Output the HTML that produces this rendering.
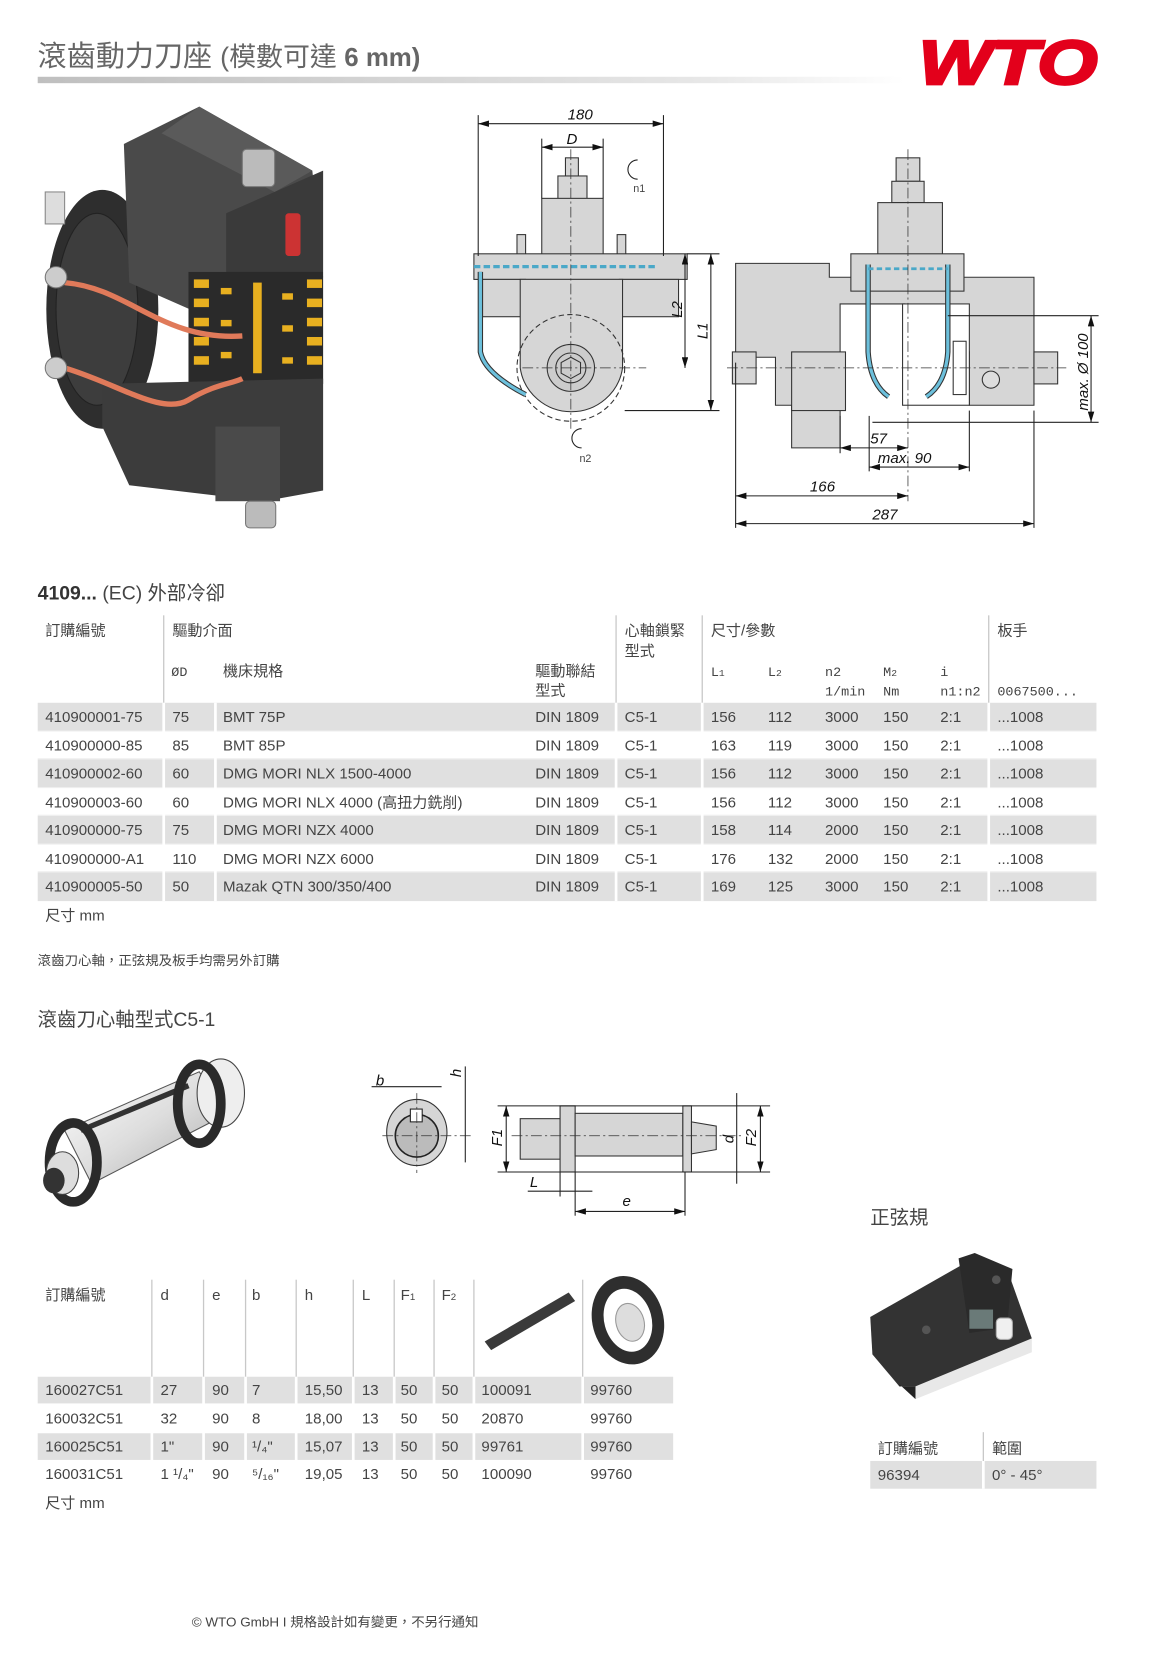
<!DOCTYPE html>
<html><head><meta charset="utf-8">
<style>
html,body{margin:0;padding:0;background:#fff;}
svg{display:block;}
text{font-family:"Liberation Sans","Noto Sans CJK TC",sans-serif;fill:#444;}
.t{font-size:14px;}
.m{font-family:"Liberation Mono","Noto Sans CJK TC",monospace;font-size:12.5px;}
.d{font-style:italic;font-size:14px;fill:#111;}
.ln{stroke:#222;stroke-width:1;fill:none;}
.g{fill:#d6d6d6;stroke:#333;stroke-width:1;}
.ax{stroke:#333;stroke-width:.7;stroke-dasharray:10 3 2 3;fill:none;}
</style></head>
<body>
<svg width="1163" height="1670" viewBox="0 0 1079.8 1566" preserveAspectRatio="none" xmlns="http://www.w3.org/2000/svg">
<defs>
<linearGradient id="gl" x1="0" x2="1"><stop offset="0" stop-color="#bfbfbf"/><stop offset="0.75" stop-color="#e6e6e6"/><stop offset="1" stop-color="#fff"/></linearGradient>
<linearGradient id="cyl" x1="0" y1="0" x2="1" y2="1"><stop offset="0" stop-color="#fff"/><stop offset=".5" stop-color="#ddd"/><stop offset="1" stop-color="#aaa"/></linearGradient>
<marker id="ar" viewBox="0 0 10 6" refX="10" refY="3" markerWidth="10" markerHeight="6" orient="auto-start-reverse"><path d="M0,0L10,3L0,6z" fill="#111"/></marker>
</defs>

<!-- Title -->
<text x="35" y="62" style="font-size:27px;fill:#666">滾齒動力刀座 <tspan style="font-size:25px">(模數可達 </tspan><tspan style="font-size:24px;font-weight:bold">6 mm)</tspan></text>
<rect x="35" y="72" width="805" height="6" fill="url(#gl)"/>
<text x="853" y="79" textLength="166" lengthAdjust="spacingAndGlyphs" style="font-size:58px;font-weight:bold;font-style:italic;fill:#e3001b;stroke:#e3001b;stroke-width:2.5">WTO</text>

<!-- 3D tool left -->
<g>
<ellipse cx="95" cy="290" rx="52" ry="112" fill="#2e2e2e"/>
<ellipse cx="90" cy="290" rx="38" ry="90" fill="#3d3d3d" stroke="#222"/>
<polygon points="115,135 185,100 290,160 300,260 210,305 120,265" fill="#4a4a4a"/>
<polygon points="185,100 290,160 255,180 150,125" fill="#5a5a5a"/>
<polygon points="210,200 300,160 300,255 210,300" fill="#3a3a3a"/>
<rect x="265" y="200" width="14" height="40" rx="3" fill="#c33"/>
<rect x="175" y="255" width="125" height="105" fill="#2a2a2a"/>
<g fill="#e8b020">
<rect x="180" y="262" width="14" height="8"/><rect x="180" y="280" width="14" height="8"/><rect x="180" y="298" width="14" height="8"/><rect x="180" y="316" width="14" height="8"/><rect x="180" y="334" width="14" height="8"/>
<rect x="235" y="265" width="8" height="85"/>
<rect x="285" y="262" width="14" height="8"/><rect x="285" y="280" width="14" height="8"/><rect x="285" y="298" width="14" height="8"/><rect x="285" y="316" width="14" height="8"/><rect x="285" y="334" width="14" height="8"/>
<rect x="205" y="270" width="10" height="6"/><rect x="205" y="300" width="10" height="6"/><rect x="205" y="330" width="10" height="6"/>
<rect x="262" y="275" width="10" height="6"/><rect x="262" y="305" width="10" height="6"/><rect x="262" y="335" width="10" height="6"/>
</g>
<polygon points="95,360 300,355 300,460 245,470 120,455 95,400" fill="#3c3c3c"/>
<rect x="200" y="400" width="60" height="70" fill="#4a4a4a"/>
<rect x="225" y="140" width="30" height="35" rx="4" fill="#bbb" stroke="#777"/>
<rect x="228" y="470" width="28" height="25" rx="4" fill="#bbb" stroke="#777"/>
<path d="M60,265 C120,270 150,320 225,315" stroke="#e07a5a" stroke-width="5" fill="none"/>
<path d="M60,345 C110,360 150,390 175,375 C200,360 215,360 225,355" stroke="#e07a5a" stroke-width="5" fill="none"/>
<circle cx="52" cy="260" r="10" fill="#ccc" stroke="#777"/><circle cx="52" cy="345" r="10" fill="#ccc" stroke="#777"/>
<rect x="42" y="180" width="18" height="30" fill="#ddd" stroke="#888"/>
</g>

<!-- Front view drawing -->
<g>
<rect x="525" y="148" width="12" height="18" class="g"/>
<rect x="518" y="165" width="27" height="22" class="g"/>
<rect x="503" y="186" width="57" height="54" class="g"/>
<rect x="480" y="220" width="8" height="20" class="g"/><rect x="573" y="220" width="8" height="20" class="g"/>
<rect x="440" y="238" width="198" height="24" class="g"/>
<rect x="448" y="262" width="40" height="35" class="g"/><rect x="575" y="262" width="55" height="35" class="g"/>
<path d="M483,262 H578 V345 A48,48 0 0 1 483,345 Z" class="g"/>
<circle cx="530" cy="345" r="22" fill="#ccc" stroke="#333"/>
<circle cx="530" cy="345" r="14" fill="#ccc" stroke="#333"/>
<polygon points="530,335 539,340 539,350 530,355 521,350 521,340" fill="none" stroke="#333"/>
<circle cx="530" cy="345" r="50" fill="none" stroke="#333" stroke-dasharray="5 3"/>
<path d="M440,250 H610" stroke="#4aa8c8" stroke-width="3" stroke-dasharray="6 3" fill="none"/>
<path d="M446,255 V330 Q450,350 488,370" stroke="#333" stroke-width="5" fill="none"/>
<path d="M446,255 V330 Q450,350 488,370" stroke="#6cc0dc" stroke-width="3" fill="none"/>
<line x1="530" y1="140" x2="530" y2="405" class="ax"/>
<line x1="485" y1="345" x2="600" y2="345" class="ax"/>
<line x1="444" y1="108" x2="444" y2="240" class="ln"/><line x1="616" y1="108" x2="616" y2="240" class="ln"/>
<line x1="444" y1="116" x2="616" y2="116" class="ln" marker-start="url(#ar)" marker-end="url(#ar)"/>
<text x="527" y="112" class="d">180</text>
<line x1="503" y1="130" x2="503" y2="186" class="ln"/><line x1="560" y1="130" x2="560" y2="186" class="ln"/>
<line x1="503" y1="138" x2="560" y2="138" class="ln" marker-start="url(#ar)" marker-end="url(#ar)"/>
<text x="526" y="135" class="d">D</text>
<line x1="638" y1="238" x2="668" y2="238" class="ln"/><line x1="580" y1="385" x2="668" y2="385" class="ln"/>
<line x1="636" y1="238" x2="636" y2="345" class="ln" marker-start="url(#ar)" marker-end="url(#ar)"/>
<line x1="660" y1="238" x2="660" y2="385" class="ln" marker-start="url(#ar)" marker-end="url(#ar)"/>
<text x="633" y="298" class="d" transform="rotate(-90 633 298)">L2</text>
<text x="657" y="318" class="d" transform="rotate(-90 657 318)">L1</text>
<path d="M592,150 A9,9 0 1 0 592,168" stroke="#222" fill="none"/><text x="588" y="180" style="font-size:10px">n1</text>
<path d="M540,402 A9,9 0 1 0 540,420" stroke="#222" fill="none"/><text x="538" y="433" style="font-size:10px">n2</text>
</g>

<!-- Side view drawing -->
<g>
<rect x="832" y="148" width="22" height="22" class="g"/>
<rect x="828" y="170" width="30" height="20" class="g"/>
<rect x="815" y="190" width="60" height="50" class="g"/>
<polygon points="683,247 770,247 770,260 960,260 960,380 900,380 900,330 840,330 840,285 780,285 780,420 735,420 735,380 720,380 720,335 683,335" class="g"/>
<rect x="790" y="238" width="105" height="35" class="g"/>
<rect x="735" y="330" width="50" height="55" class="g"/>
<rect x="680" y="330" width="22" height="30" class="g"/><rect x="960" y="330" width="22" height="30" class="g"/>
<rect x="838" y="285" width="62" height="95" fill="#fff" stroke="#333"/>
<rect x="885" y="320" width="12" height="50" fill="#fff" stroke="#333"/>
<circle cx="920" cy="356" r="8" fill="#ddd" stroke="#333"/>
<path d="M806,248 V330 Q808,360 825,372" stroke="#333" stroke-width="5" fill="none"/>
<path d="M806,248 V330 Q808,360 825,372" stroke="#6cc0dc" stroke-width="3" fill="none"/>
<path d="M880,248 V330 Q878,360 860,372" stroke="#333" stroke-width="5" fill="none"/>
<path d="M880,248 V330 Q878,360 860,372" stroke="#6cc0dc" stroke-width="3" fill="none"/>
<line x1="806" y1="252" x2="880" y2="252" stroke="#4aa8c8" stroke-width="2.5" stroke-dasharray="5 3"/>
<line x1="843" y1="140" x2="843" y2="470" class="ax"/>
<line x1="675" y1="345" x2="990" y2="345" class="ax"/>
<line x1="683" y1="340" x2="683" y2="495" class="ln"/><line x1="960" y1="385" x2="960" y2="495" class="ln"/>
<line x1="780" y1="390" x2="780" y2="425" class="ln"/><line x1="807" y1="390" x2="807" y2="442" class="ln"/><line x1="900" y1="385" x2="900" y2="442" class="ln"/>
<line x1="780" y1="420" x2="843" y2="420" class="ln" marker-start="url(#ar)" marker-end="url(#ar)"/><text x="808" y="416" class="d">57</text>
<line x1="807" y1="438" x2="900" y2="438" class="ln" marker-start="url(#ar)" marker-end="url(#ar)"/><text x="815" y="434" class="d">max.  90</text>
<line x1="683" y1="465" x2="843" y2="465" class="ln" marker-start="url(#ar)" marker-end="url(#ar)"/><text x="752" y="461" class="d">166</text>
<line x1="683" y1="491" x2="960" y2="491" class="ln" marker-start="url(#ar)" marker-end="url(#ar)"/><text x="810" y="487" class="d">287</text>
<line x1="880" y1="296" x2="1020" y2="296" class="ln"/><line x1="810" y1="396" x2="1020" y2="396" class="ln"/>
<line x1="1013" y1="296" x2="1013" y2="396" class="ln" marker-start="url(#ar)" marker-end="url(#ar)"/>
<text x="1010" y="385" class="d" transform="rotate(-90 1010 385)">max. Ø 100</text>
</g>

<!-- Section heading -->
<text x="35" y="562" style="font-size:18px"><tspan style="font-weight:bold;fill:#333">4109...</tspan> (EC) 外部冷卻</text>

<!-- Table 1 -->
<g>
<g fill="#e0e0e0">
<rect x="35" y="659" width="983" height="26"/>
<rect x="35" y="712" width="983" height="26"/>
<rect x="35" y="765" width="983" height="26"/>
<rect x="35" y="818" width="983" height="27"/>
</g>
<g stroke="#eee" stroke-width="1"><line x1="35" y1="685.5" x2="1018" y2="685.5"/><line x1="35" y1="711.5" x2="1018" y2="711.5"/><line x1="35" y1="738.5" x2="1018" y2="738.5"/><line x1="35" y1="764.5" x2="1018" y2="764.5"/><line x1="35" y1="791.5" x2="1018" y2="791.5"/><line x1="35" y1="817.5" x2="1018" y2="817.5"/></g>
<g stroke="#c8c8c8" stroke-width="1.2">
<line x1="152" y1="577" x2="152" y2="659"/><line x1="572" y1="577" x2="572" y2="659"/><line x1="652" y1="577" x2="652" y2="659"/><line x1="918" y1="577" x2="918" y2="659"/>
</g>
<g stroke="#fff" stroke-width="2.5">
<line x1="152" y1="659" x2="152" y2="845"/><line x1="200" y1="659" x2="200" y2="845"/><line x1="572" y1="659" x2="572" y2="845"/><line x1="652" y1="659" x2="652" y2="845"/><line x1="918" y1="659" x2="918" y2="845"/>
</g>
<g class="t">
<text x="42" y="596" class="t">訂購編號</text><text x="160" y="596" class="t">驅動介面</text>
<text x="580" y="596" class="t">心軸鎖緊</text><text x="580" y="615" class="t">型式</text>
<text x="660" y="596" class="t">尺寸/參數</text><text x="926" y="596" class="t">板手</text>
<text x="159" y="634" class="m">ØD</text><text x="207" y="634" class="t">機床規格</text>
<text x="497" y="634" class="t">驅動聯結</text><text x="497" y="652" class="t">型式</text>
<text x="660" y="634" class="m">L<tspan style="font-size:9px">1</tspan></text>
<text x="713" y="634" class="m">L<tspan style="font-size:9px">2</tspan></text>
<text x="766" y="634" class="m">n2</text><text x="766" y="652" class="m">1/min</text>
<text x="820" y="634" class="m">M<tspan style="font-size:9px">2</tspan></text><text x="820" y="652" class="m">Nm</text>
<text x="873" y="634" class="m">i</text><text x="873" y="652" class="m">n1:n2</text>
<text x="926" y="652" class="m">0067500...</text>
</g>
<g class="t">
<text x="42" y="677" class="t">410900001-75</text><text x="160" y="677" class="t">75</text><text x="207" y="677" class="t">BMT 75P</text><text x="497" y="677" class="t">DIN 1809</text><text x="580" y="677" class="t">C5-1</text><text x="660" y="677" class="t">156</text><text x="713" y="677" class="t">112</text><text x="766" y="677" class="t">3000</text><text x="820" y="677" class="t">150</text><text x="873" y="677" class="t">2:1</text><text x="926" y="677" class="t">...1008</text>
<text x="42" y="704" class="t">410900000-85</text><text x="160" y="704" class="t">85</text><text x="207" y="704" class="t">BMT 85P</text><text x="497" y="704" class="t">DIN 1809</text><text x="580" y="704" class="t">C5-1</text><text x="660" y="704" class="t">163</text><text x="713" y="704" class="t">119</text><text x="766" y="704" class="t">3000</text><text x="820" y="704" class="t">150</text><text x="873" y="704" class="t">2:1</text><text x="926" y="704" class="t">...1008</text>
<text x="42" y="730" class="t">410900002-60</text><text x="160" y="730" class="t">60</text><text x="207" y="730" class="t">DMG MORI NLX 1500-4000</text><text x="497" y="730" class="t">DIN 1809</text><text x="580" y="730" class="t">C5-1</text><text x="660" y="730" class="t">156</text><text x="713" y="730" class="t">112</text><text x="766" y="730" class="t">3000</text><text x="820" y="730" class="t">150</text><text x="873" y="730" class="t">2:1</text><text x="926" y="730" class="t">...1008</text>
<text x="42" y="757" class="t">410900003-60</text><text x="160" y="757" class="t">60</text><text x="207" y="757" class="t">DMG MORI NLX 4000 (高扭力銑削)</text><text x="497" y="757" class="t">DIN 1809</text><text x="580" y="757" class="t">C5-1</text><text x="660" y="757" class="t">156</text><text x="713" y="757" class="t">112</text><text x="766" y="757" class="t">3000</text><text x="820" y="757" class="t">150</text><text x="873" y="757" class="t">2:1</text><text x="926" y="757" class="t">...1008</text>
<text x="42" y="783" class="t">410900000-75</text><text x="160" y="783" class="t">75</text><text x="207" y="783" class="t">DMG MORI NZX 4000</text><text x="497" y="783" class="t">DIN 1809</text><text x="580" y="783" class="t">C5-1</text><text x="660" y="783" class="t">158</text><text x="713" y="783" class="t">114</text><text x="766" y="783" class="t">2000</text><text x="820" y="783" class="t">150</text><text x="873" y="783" class="t">2:1</text><text x="926" y="783" class="t">...1008</text>
<text x="42" y="810" class="t">410900000-A1</text><text x="160" y="810" class="t">110</text><text x="207" y="810" class="t">DMG MORI NZX 6000</text><text x="497" y="810" class="t">DIN 1809</text><text x="580" y="810" class="t">C5-1</text><text x="660" y="810" class="t">176</text><text x="713" y="810" class="t">132</text><text x="766" y="810" class="t">2000</text><text x="820" y="810" class="t">150</text><text x="873" y="810" class="t">2:1</text><text x="926" y="810" class="t">...1008</text>
<text x="42" y="836" class="t">410900005-50</text><text x="160" y="836" class="t">50</text><text x="207" y="836" class="t">Mazak QTN 300/350/400</text><text x="497" y="836" class="t">DIN 1809</text><text x="580" y="836" class="t">C5-1</text><text x="660" y="836" class="t">169</text><text x="713" y="836" class="t">125</text><text x="766" y="836" class="t">3000</text><text x="820" y="836" class="t">150</text><text x="873" y="836" class="t">2:1</text><text x="926" y="836" class="t">...1008</text>
</g>
<text x="42" y="863" class="t">尺寸 mm</text>
</g>

<text x="35" y="905" style="font-size:12.5px">滾齒刀心軸，正弦規及板手均需另外訂購</text>
<text x="35" y="962" style="font-size:18px">滾齒刀心軸型式C5-1</text>

<!-- Arbor 3D -->
<g>
<polygon points="60,1060 185,1005 210,1045 85,1110" fill="url(#cyl)" stroke="#555"/>
<line x1="75" y1="1060" x2="175" y2="1018" stroke="#333" stroke-width="5"/>
<ellipse cx="205" cy="1025" rx="22" ry="32" fill="#eee" stroke="#444"/>
<ellipse cx="185" cy="1035" rx="20" ry="37" fill="none" stroke="#2a2a2a" stroke-width="9"/>
<ellipse cx="68" cy="1090" rx="22" ry="37" fill="none" stroke="#2a2a2a" stroke-width="9"/>
<ellipse cx="58" cy="1100" rx="15" ry="20" fill="#ddd" stroke="#444"/>
<ellipse cx="50" cy="1107" rx="10" ry="12" fill="#333"/>
</g>

<!-- Arbor drawing -->
<g>
<ellipse cx="387" cy="1062" rx="28" ry="31" class="g"/>
<circle cx="387" cy="1065" r="20" fill="#bbb" stroke="#222" stroke-width="1.5"/>
<rect x="381" y="1040" width="11" height="12" fill="#fff" stroke="#222"/>
<line x1="355" y1="1065" x2="440" y2="1065" class="ax"/><line x1="387" y1="1025" x2="387" y2="1100" class="ax"/>
<line x1="345" y1="1019" x2="410" y2="1019" class="ln"/><text x="349" y="1018" class="d">b</text>
<line x1="432" y1="1000" x2="432" y2="1090" class="ln"/><text x="428" y="1010" class="d" transform="rotate(-90 428 1010)">h</text>
<rect x="483" y="1049" width="37" height="38" class="g"/>
<rect x="520" y="1037" width="14" height="62" class="g"/>
<rect x="534" y="1044" width="100" height="40" class="g"/>
<rect x="634" y="1037" width="8" height="62" class="g"/>
<polygon points="642,1052 665,1056 665,1078 642,1082" class="g"/>
<line x1="475" y1="1065" x2="690" y2="1065" class="ax"/>
<line x1="462" y1="1037" x2="715" y2="1037" class="ln"/><line x1="462" y1="1099" x2="715" y2="1099" class="ln"/>
<line x1="470" y1="1037" x2="470" y2="1099" class="ln" marker-start="url(#ar)" marker-end="url(#ar)"/><text x="466" y="1075" class="d" transform="rotate(-90 466 1075)">F1</text>
<line x1="706" y1="1037" x2="706" y2="1099" class="ln" marker-start="url(#ar)" marker-end="url(#ar)"/><text x="702" y="1075" class="d" transform="rotate(-90 702 1075)">F2</text>
<line x1="684" y1="1025" x2="684" y2="1110" class="ln"/><text x="681" y="1072" class="d" transform="rotate(-90 681 1072)">d</text>
<line x1="520" y1="1099" x2="520" y2="1122" class="ln"/><line x1="534" y1="1099" x2="534" y2="1140" class="ln"/><line x1="636" y1="1099" x2="636" y2="1140" class="ln"/>
<line x1="490" y1="1117" x2="550" y2="1117" class="ln"/><text x="492" y="1113" class="d">L</text>
<line x1="534" y1="1136" x2="636" y2="1136" class="ln" marker-start="url(#ar)" marker-end="url(#ar)"/><text x="578" y="1131" class="d">e</text>
</g>

<!-- Sine bar -->
<text x="808" y="1148" style="font-size:18px">正弦規</text>
<g>
<polygon points="850,1312 850,1300 958,1255 958,1268" fill="#e8e8e8"/>
<polygon points="808,1235 895,1185 935,1190 958,1255 850,1300 835,1300 810,1270" fill="#333"/>
<polygon points="835,1300 850,1300 850,1312 835,1298" fill="#222"/>
<polygon points="890,1180 905,1175 940,1190 935,1245 900,1250" fill="#2a2a2a"/>
<rect x="900" y="1228" width="22" height="18" fill="#6a7a78"/>
<rect x="925" y="1236" width="15" height="20" rx="4" fill="#f0f0f0" stroke="#aaa"/>
<circle cx="860" cy="1247" r="4" fill="#555"/><circle cx="925" cy="1200" r="4" fill="#555"/>
</g>

<!-- Table 2 -->
<g>
<rect x="35" y="1291" width="590" height="25" fill="#e0e0e0"/>
<rect x="35" y="1344" width="590" height="25" fill="#e0e0e0"/>
<g stroke="#c8c8c8" stroke-width="1.2">
<line x1="141" y1="1200" x2="141" y2="1291"/><line x1="189" y1="1200" x2="189" y2="1291"/><line x1="228" y1="1200" x2="228" y2="1291"/><line x1="275" y1="1200" x2="275" y2="1291"/><line x1="328" y1="1200" x2="328" y2="1291"/><line x1="366" y1="1200" x2="366" y2="1291"/><line x1="403" y1="1200" x2="403" y2="1291"/><line x1="440" y1="1200" x2="440" y2="1291"/><line x1="541" y1="1200" x2="541" y2="1291"/>
</g>
<g stroke="#fff" stroke-width="2.5">
<line x1="141" y1="1291" x2="141" y2="1370"/><line x1="189" y1="1291" x2="189" y2="1370"/><line x1="228" y1="1291" x2="228" y2="1370"/><line x1="275" y1="1291" x2="275" y2="1370"/><line x1="328" y1="1291" x2="328" y2="1370"/><line x1="366" y1="1291" x2="366" y2="1370"/><line x1="403" y1="1291" x2="403" y2="1370"/><line x1="440" y1="1291" x2="440" y2="1370"/><line x1="541" y1="1291" x2="541" y2="1370"/>
</g>
<text x="42" y="1219" class="t">訂購編號</text><text x="149" y="1219" class="t">d</text><text x="197" y="1219" class="t">e</text><text x="234" y="1219" class="t">b</text><text x="283" y="1219" class="t">h</text><text x="336" y="1219" class="t">L</text><text x="372" y="1219" class="t">F<tspan style="font-size:9px">1</tspan></text><text x="410" y="1219" class="t">F<tspan style="font-size:9px">2</tspan></text>
<polygon points="450,1258 528,1212 534,1220 456,1266" fill="#3a3a3a"/>
<ellipse cx="583" cy="1238" rx="33" ry="42" fill="#2e2e2e" transform="rotate(-15 583 1238)"/>
<ellipse cx="583" cy="1238" rx="22" ry="30" fill="#fff" transform="rotate(-15 583 1238)"/>
<ellipse cx="585" cy="1240" rx="13" ry="18" fill="#ddd" stroke="#999" transform="rotate(-15 585 1240)"/>
<g>
<text x="42" y="1308" class="t">160027C51</text><text x="149" y="1308" class="t">27</text><text x="197" y="1308" class="t">90</text><text x="234" y="1308" class="t">7</text><text x="283" y="1308" class="t">15,50</text><text x="336" y="1308" class="t">13</text><text x="372" y="1308" class="t">50</text><text x="410" y="1308" class="t">50</text><text x="447" y="1308" class="t">100091</text><text x="548" y="1308" class="t">99760</text>
<text x="42" y="1335" class="t">160032C51</text><text x="149" y="1335" class="t">32</text><text x="197" y="1335" class="t">90</text><text x="234" y="1335" class="t">8</text><text x="283" y="1335" class="t">18,00</text><text x="336" y="1335" class="t">13</text><text x="372" y="1335" class="t">50</text><text x="410" y="1335" class="t">50</text><text x="447" y="1335" class="t">20870</text><text x="548" y="1335" class="t">99760</text>
<text x="42" y="1361" class="t">160025C51</text><text x="149" y="1361" class="t">1"</text><text x="197" y="1361" class="t">90</text><text x="234" y="1361" class="t">¹/₄"</text><text x="283" y="1361" class="t">15,07</text><text x="336" y="1361" class="t">13</text><text x="372" y="1361" class="t">50</text><text x="410" y="1361" class="t">50</text><text x="447" y="1361" class="t">99761</text><text x="548" y="1361" class="t">99760</text>
<text x="42" y="1387" class="t">160031C51</text><text x="149" y="1387" class="t">1 ¹/₄"</text><text x="197" y="1387" class="t">90</text><text x="234" y="1387" class="t">⁵/₁₆"</text><text x="283" y="1387" class="t">19,05</text><text x="336" y="1387" class="t">13</text><text x="372" y="1387" class="t">50</text><text x="410" y="1387" class="t">50</text><text x="447" y="1387" class="t">100090</text><text x="548" y="1387" class="t">99760</text>
</g>
<text x="42" y="1414" class="t">尺寸 mm</text>
</g>

<!-- Sine table -->
<g>
<rect x="808" y="1370" width="210" height="26" fill="#e0e0e0"/>
<line x1="913" y1="1343" x2="913" y2="1370" stroke="#c8c8c8" stroke-width="1.2"/>
<line x1="913" y1="1370" x2="913" y2="1396" stroke="#fff" stroke-width="2.5"/>
<text x="815" y="1363" class="t">訂購編號</text><text x="921" y="1363" class="t">範圍</text>
<text x="815" y="1388" class="t">96394</text><text x="921" y="1388" class="t">0° - 45°</text>
</g>

<text x="178" y="1525" style="font-size:12.5px">© WTO GmbH I 規格設計如有變更，不另行通知</text>
</svg>
</body></html>
